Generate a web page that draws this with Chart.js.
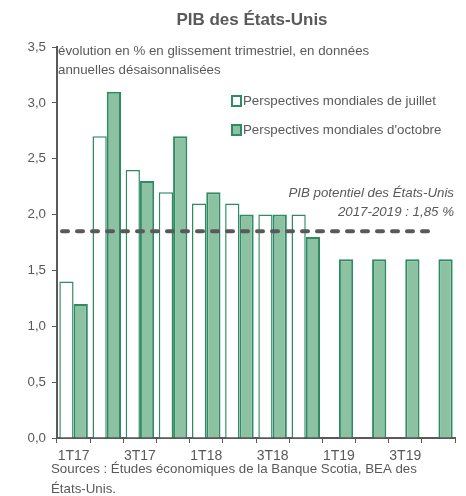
<!DOCTYPE html>
<html>
<head>
<meta charset="utf-8">
<script src="https://cdn.jsdelivr.net/npm/chart.js@4.4.1/dist/chart.umd.min.js"></script>
<style>
  html, body { margin: 0; padding: 0; background: #fff; }
  #wrap { width: 466px; height: 496px; position: relative; }
</style>
</head>
<body>
<div id="wrap"><canvas id="pibChart"></canvas></div>
<script>
// Données
const trimestres = ['1T17', '2T17', '3T17', '4T17', '1T18', '2T18', '3T18', '4T18', '1T19', '2T19', '3T19', '4T19'];
const juillet = [1.4, 2.7, 2.4, 2.2, 2.1, 2.1, 2.0, 2.0, null, null, null, null];
const octobre = [1.2, 3.1, 2.3, 2.7, 2.2, 2.0, 2.0, 1.8, 1.6, 1.6, 1.6, 1.6];
const pibPotentiel = 1.85;
const yTicks = [0, 0.5, 1.0, 1.5, 2.0, 2.5, 3.0, 3.5];

const gris = '#595959';
const vert = '#2e8b63';
const vertClair = '#8cc2a2';
const police = '"Liberation Sans", Arial, sans-serif';

// textes, légende et ligne pointillée
const textesPlugin = {
  id: 'textes',
  afterDatasetsDraw(chart) {
    const ctx = chart.ctx;
    const area = chart.chartArea;
    const y = chart.scales.y.getPixelForValue(pibPotentiel);
    ctx.save();
    ctx.strokeStyle = gris;
    ctx.lineWidth = 4;
    ctx.lineCap = 'round';
    ctx.setLineDash([6, 9]);
    ctx.beginPath();
    ctx.moveTo(area.left + 5, y);
    ctx.lineTo(area.right - 22, y);
    ctx.stroke();
    ctx.restore();
  },
  afterDraw(chart) {
    const ctx = chart.ctx;
    ctx.save();
    ctx.fillStyle = gris;
    ctx.textBaseline = 'middle';

    ctx.font = 'bold 17px ' + police;
    ctx.textAlign = 'center';
    ctx.fillText('PIB des États-Unis', 252, 20);

    ctx.font = '13.3px ' + police;
    ctx.textAlign = 'left';
    ctx.fillText('évolution en % en glissement trimestriel, en données', 58, 51);
    ctx.fillText('annuelles désaisonnalisées', 58, 70);

    // légende
    const legende = [
      { label: 'Perspectives mondiales de juillet', fond: '#ffffff', y: 101 },
      { label: "Perspectives mondiales d'octobre", fond: vertClair, y: 130 }
    ];
    legende.forEach(l => {
      ctx.fillStyle = l.fond;
      ctx.fillRect(232, l.y - 5, 9, 10);
      ctx.strokeStyle = vert;
      ctx.lineWidth = 2;
      ctx.strokeRect(232, l.y - 5, 9, 10);
      ctx.fillStyle = gris;
      ctx.fillText(l.label, 243, l.y);
    });

    ctx.font = 'italic 13.3px ' + police;
    ctx.textAlign = 'right';
    ctx.fillText('PIB potentiel des États-Unis', 454, 193);
    ctx.fillText('2017-2019 : 1,85 %', 454, 212);

    ctx.font = '13.3px ' + police;
    ctx.textAlign = 'left';
    ctx.fillText('Sources : Études économiques de la Banque Scotia, BEA des', 51, 469);
    ctx.fillText('États-Unis.', 51, 489);
    ctx.restore();
  }
};

new Chart(document.getElementById('pibChart'), {
  type: 'bar',
  data: {
    labels: trimestres,
    datasets: [{
      label: 'Perspectives mondiales de juillet',
      data: juillet,
      backgroundColor: '#ffffff',
      borderColor: vert,
      borderWidth: 1.5
    }, {
      label: "Perspectives mondiales d'octobre",
      data: octobre,
      backgroundColor: vertClair,
      borderColor: vert,
      borderWidth: 2
    }]
  },
  options: {
    responsive: true,
    maintainAspectRatio: false,
    animation: false,
    layout: { padding: { top: 47, right: 11, left: 0, bottom: 0 } },
    datasets: { bar: { barPercentage: 1, categoryPercentage: 0.86 } },
    plugins: {
      legend: { display: false },
      tooltip: { enabled: false }
    },
    scales: {
      x: {
        grid: { drawOnChartArea: false, color: gris, tickLength: 5, offset: true },
        border: { color: gris, width: 2 },
        ticks: {
          color: gris,
          font: { family: police, size: 14 },
          autoSkip: false,
          maxRotation: 0,
          padding: 5,
          callback: (v, i) => i % 2 === 0 ? trimestres[i] : ''
        },
        afterFit: s => { s.height = 58; }
      },
      y: {
        min: 0,
        max: 3.5,
        afterBuildTicks: s => { s.ticks = yTicks.map(v => ({ value: v })); },
        grid: { drawOnChartArea: false, color: gris, tickLength: 5 },
        border: { color: gris, width: 2 },
        ticks: {
          color: gris,
          font: { family: police, size: 13.3 },
          padding: 6,
          callback: v => v.toFixed(1).replace('.', ',')
        },
        afterFit: s => { s.width = 57; }
      }
    }
  },
  plugins: [textesPlugin]
});
</script>
</body>
</html>
